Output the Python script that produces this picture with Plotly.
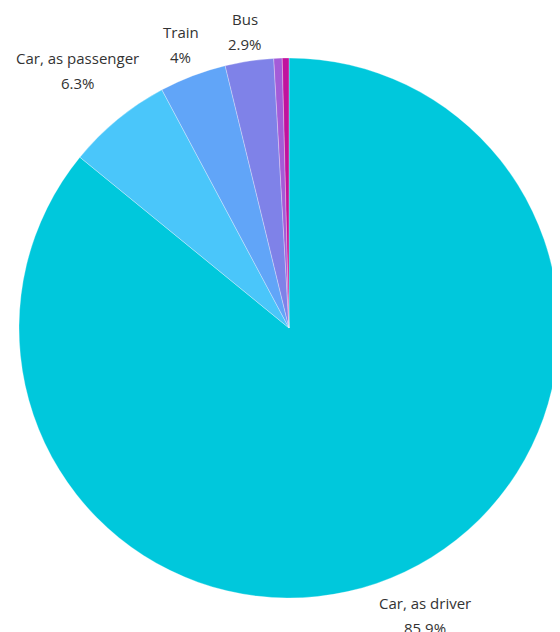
import math
import plotly.graph_objects as go

labels = ["Car, as driver", "Car, as passenger", "Train", "Bus", "Bicycle", "Walking"]
values = [85.9, 6.3, 4.0, 2.9, 0.5, 0.4]
colors = ["#00C8DC", "#4AC6FA", "#61A5F8", "#7F82E8", "#A45CD8", "#C0139E"]
show_label = [True, True, True, True, False, False]

W, H = 560, 632
# page body adds an 8px offset, so the pie centre is placed 8px up/left in figure coords
CX, CY, R = 281, 320, 270

fig = go.Figure(go.Pie(
    labels=labels,
    values=values,
    textinfo="none",
    sort=False,
    direction="clockwise",
    rotation=0,
    marker=dict(colors=colors, line=dict(color="rgba(255,255,255,0.6)", width=0.5)),
    hoverinfo="label+percent",
    showlegend=False,
    automargin=False,
    domain=dict(x=[(CX - R) / W, (CX + R) / W], y=[1 - (CY + R) / H, 1 - (CY - R) / H]),
))

# outside labels placed at each slice's mid-angle
font = dict(family="Open Sans, sans-serif", size=15, color="#333333")
total = sum(values)
cum = 0.0
annotations = []
for lab, v, show in zip(labels, values, show_label):
    mid = (cum + v / 2) / total * 2 * math.pi
    cum += v
    if not show:
        continue
    lines = [lab, f"{v:g}%"]
    ux, uy = math.sin(mid), -math.cos(mid)
    hw = max(len(s) for s in lines) * 7.2 / 2
    hh = 18
    d = R + 10 + abs(ux) * hw + abs(uy) * hh
    px, py = CX + d * ux, CY + d * uy
    for k, s in enumerate(lines):
        ly = py + (k - 0.5) * 25
        annotations.append(dict(
            x=px / W, y=1 - ly / H, xref="paper", yref="paper",
            text=s, showarrow=False, xanchor="center", yanchor="middle",
            font=font,
        ))

fig.update_layout(
    width=W, height=H,
    margin=dict(l=0, r=0, t=0, b=0),
    paper_bgcolor="white",
    plot_bgcolor="white",
    annotations=annotations,
)

fig.write_html("out.html")
